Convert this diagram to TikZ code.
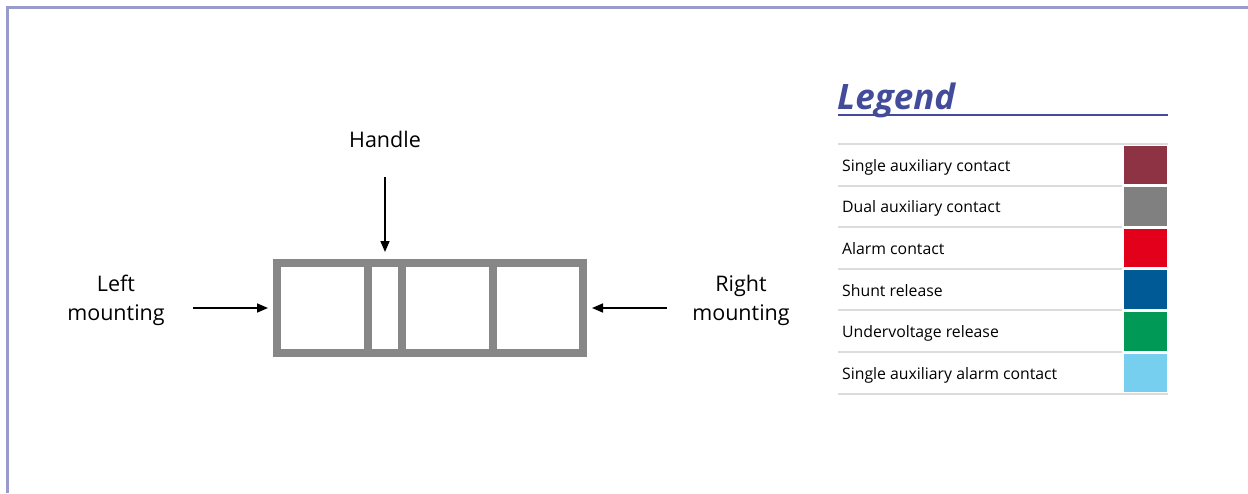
\documentclass[tikz,border=0pt]{standalone}
\usepackage{fontspec}
\setmainfont{Open Sans}
\usetikzlibrary{arrows.meta}
\definecolor{framec}{HTML}{9A9BCB}
\definecolor{boxgray}{HTML}{878787}
\definecolor{legblue}{HTML}{434C9A}
\definecolor{sepgray}{HTML}{DCDCDC}
\definecolor{cA}{HTML}{8E3344}
\definecolor{cB}{HTML}{808080}
\definecolor{cC}{HTML}{E2001A}
\definecolor{cD}{HTML}{005A96}
\definecolor{cE}{HTML}{009A56}
\definecolor{cF}{HTML}{77CFF0}
\tikzset{
  bar/.style={fill=boxgray, draw=none},
  lbl/.style={font=\fontsize{21.5}{29}\selectfont, align=center, inner sep=0pt},
  arr/.style={-{Triangle[length=11pt,width=9pt]}, line width=1.6pt},
  row/.style={font=\fontsize{15.8}{18}\selectfont, anchor=base west, inner sep=0pt},
  sep/.style={draw=sepgray, line width=2pt},
}
\begin{document}
\begin{tikzpicture}[x=1pt,y=-1pt]
\useasboundingbox (0,0) rectangle (1248,493);
% frame
\draw[framec, line width=3pt] (7,493) -- (7,7) -- (1248,7);
% box
\fill[bar] (273,259) rectangle (587,267);
\fill[bar] (273,349) rectangle (587,357);
\fill[bar] (273,259) rectangle (281,357);
\fill[bar] (364,259) rectangle (372,357);
\fill[bar] (398,259) rectangle (406,357);
\fill[bar] (489,259) rectangle (497,357);
\fill[bar] (579,259) rectangle (587,357);
\coordinate (bt) at (385,252);
\coordinate (bl) at (268,308);
\coordinate (br) at (592,308);
% labels and arrows
\node[lbl] (handle) at (385,139) {Handle};
\node[lbl] (left) at (116,300) {Left\\mounting};
\node[lbl] (right) at (741,300) {Right\\mounting};
\coordinate (hs) at (385,177);
\coordinate (ls) at (193,308);
\coordinate (rs) at (667,308);
\draw[arr] (hs) -- (bt);
\draw[arr] (ls) -- (bl);
\draw[arr] (rs) -- (br);
% legend
\node[font=\fontsize{35}{38}\selectfont\bfseries\itshape, text=legblue, anchor=base west, inner sep=0pt] (leg) at (837,109) {Legend};
\draw[legblue, line width=2pt] (838,115) -- (1168,115);
\foreach \i/\c/\t in {0/cA/Single auxiliary contact,1/cB/Dual auxiliary contact,2/cC/Alarm contact,3/cD/Shunt release,4/cE/Undervoltage release,5/cF/Single auxiliary alarm contact}{
  \pgfmathsetmacro{\ya}{144+\i*41.6}
  \pgfmathsetmacro{\yb}{144+(\i+1)*41.6}
  \fill[\c] (1124,\ya+1.5) rectangle (1167,\yb-1.5);
  \node[row] (r\i) at (842,{(\ya+\yb)/2+6.5}) {\t};
}
\foreach \i in {0,...,6}{
  \pgfmathsetmacro{\y}{144+\i*41.6}
  \draw[sep] (838,\y) -- (1122,\y);
}
\draw[sep] (1122,144) -- (1168,144);
\draw[sep] (1122,393.6) -- (1168,393.6);
\end{tikzpicture}
\end{document}
